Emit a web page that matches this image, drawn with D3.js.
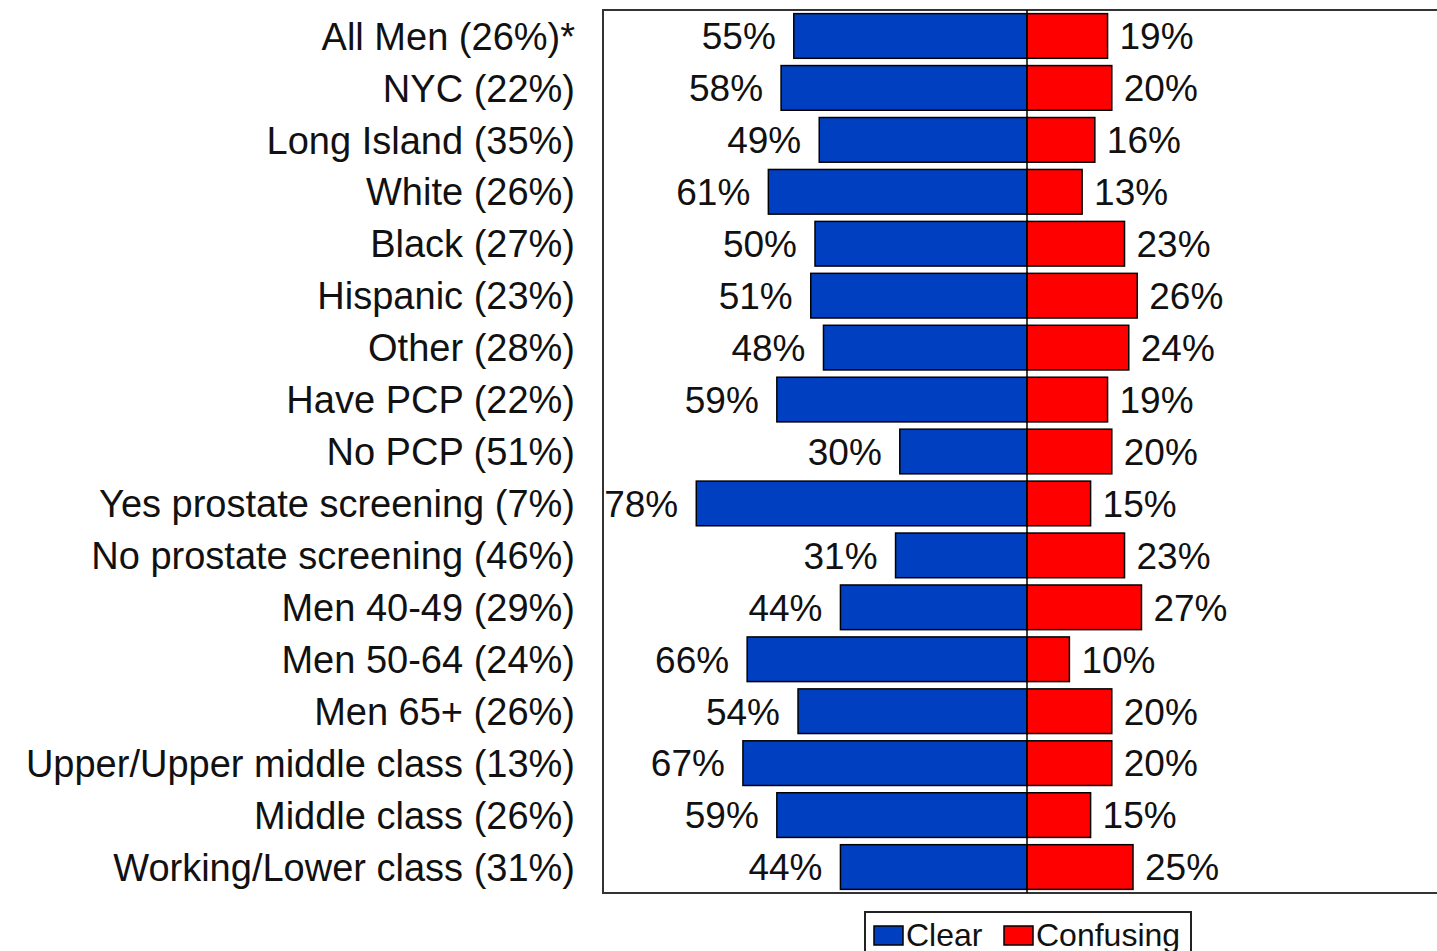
<!DOCTYPE html>
<html>
<head>
<meta charset="utf-8">
<script src="https://cdn.jsdelivr.net/npm/d3@7.9.0/dist/d3.min.js"></script>
<style>
  body { margin: 0; background: #fff; }
  svg { display: block; font-family: "Liberation Sans", Arial, sans-serif; }
</style>
</head>
<body>
<svg id="chart" width="1437" height="951"></svg>
<script>
// groups (share in parentheses as printed on the chart)
const categories = [
  'All Men (26%)*', 'NYC (22%)', 'Long Island (35%)', 'White (26%)', 'Black (27%)',
  'Hispanic (23%)', 'Other (28%)', 'Have PCP (22%)', 'No PCP (51%)',
  'Yes prostate screening (7%)', 'No prostate screening (46%)', 'Men 40-49 (29%)',
  'Men 50-64 (24%)', 'Men 65+ (26%)', 'Upper/Upper middle class (13%)',
  'Middle class (26%)', 'Working/Lower class (31%)'
];
const clearValues = [55, 58, 49, 61, 50, 51, 48, 59, 30, 78, 31, 44, 66, 54, 67, 59, 44];
const confusingValues = [19, 20, 16, 13, 23, 26, 24, 19, 20, 15, 23, 27, 10, 20, 20, 15, 25];
const seriesNames = ['Clear', 'Confusing'];

const blue = '#0040c0';
const red = '#ff0000';
const ink = '#111';

const svg = d3.select('#chart');

const plot = { left: 603, right: 1451, top: 10, bottom: 893 };

let x = d3.scaleLinear().domain([-100, 100]).range([plot.left, plot.right]);
let y = d3.scaleBand()
  .domain(categories)
  .range([plot.top, plot.bottom])
  .paddingInner(0.14)
  .paddingOuter(0.07);

// frame
svg.append('rect')
  .attr('x', plot.left)
  .attr('y', plot.top)
  .attr('width', plot.right - plot.left)
  .attr('height', plot.bottom - plot.top)
  .attr('fill', 'none')
  .attr('stroke', '#333')
  .attr('stroke-width', 2);

// category labels
svg.append('g')
  .selectAll('text')
  .data(categories)
  .join('text')
  .attr('x', 575)
  .attr('y', (d) => y(d) + y.bandwidth() / 2)
  .attr('dy', '0.36em')
  .attr('text-anchor', 'end')
  .attr('font-size', 38)
  .attr('fill', ink)
  .text((d) => d);

let rows = categories.map((c, i) => ({ cat: c, clear: clearValues[i], confusing: confusingValues[i] }));

// clear bars (left of centre)
svg.append('g')
  .selectAll('rect')
  .data(rows)
  .join('rect')
  .attr('x', (d) => x(-d.clear))
  .attr('y', (d) => y(d.cat))
  .attr('width', (d) => x(0) - x(-d.clear))
  .attr('height', y.bandwidth())
  .attr('fill', blue)
  .attr('stroke', '#000')
  .attr('stroke-width', 1.5);

// confusing bars (right of centre)
svg.append('g')
  .selectAll('rect')
  .data(rows)
  .join('rect')
  .attr('x', x(0))
  .attr('y', (d) => y(d.cat))
  .attr('width', (d) => x(d.confusing) - x(0))
  .attr('height', y.bandwidth())
  .attr('fill', red)
  .attr('stroke', '#000')
  .attr('stroke-width', 1.5);

// centre line
svg.append('line')
  .attr('x1', x(0)).attr('x2', x(0))
  .attr('y1', plot.top).attr('y2', plot.bottom)
  .attr('stroke', '#000')
  .attr('stroke-width', 1.5);

// value labels
svg.append('g')
  .selectAll('text')
  .data(rows)
  .join('text')
  .attr('x', (d) => x(-d.clear) - 18)
  .attr('y', (d) => y(d.cat) + y.bandwidth() / 2)
  .attr('dy', '0.36em')
  .attr('text-anchor', 'end')
  .attr('font-size', 37)
  .attr('fill', ink)
  .text((d) => d.clear + '%');

svg.append('g')
  .selectAll('text')
  .data(rows)
  .join('text')
  .attr('x', (d) => x(d.confusing) + 12)
  .attr('y', (d) => y(d.cat) + y.bandwidth() / 2)
  .attr('dy', '0.36em')
  .attr('font-size', 37)
  .attr('fill', ink)
  .text((d) => d.confusing + '%');

// legend
const legend = svg.append('g');
legend.append('rect')
  .attr('x', 865).attr('y', 912)
  .attr('width', 326).attr('height', 60)
  .attr('fill', '#fff')
  .attr('stroke', '#222')
  .attr('stroke-width', 2);

const legendItems = [
  { name: seriesNames[0], color: blue, x: 874 },
  { name: seriesNames[1], color: red, x: 1004 }
];
legendItems.forEach((d) => {
  legend.append('rect')
    .attr('x', d.x).attr('y', 926)
    .attr('width', 29).attr('height', 19)
    .attr('fill', d.color)
    .attr('stroke', '#000')
    .attr('stroke-width', 1.5);
  legend.append('text')
    .attr('x', d.x + 32)
    .attr('y', 946)
    .attr('font-size', 32)
    .attr('fill', ink)
    .text(d.name);
});
</script>
</body>
</html>
